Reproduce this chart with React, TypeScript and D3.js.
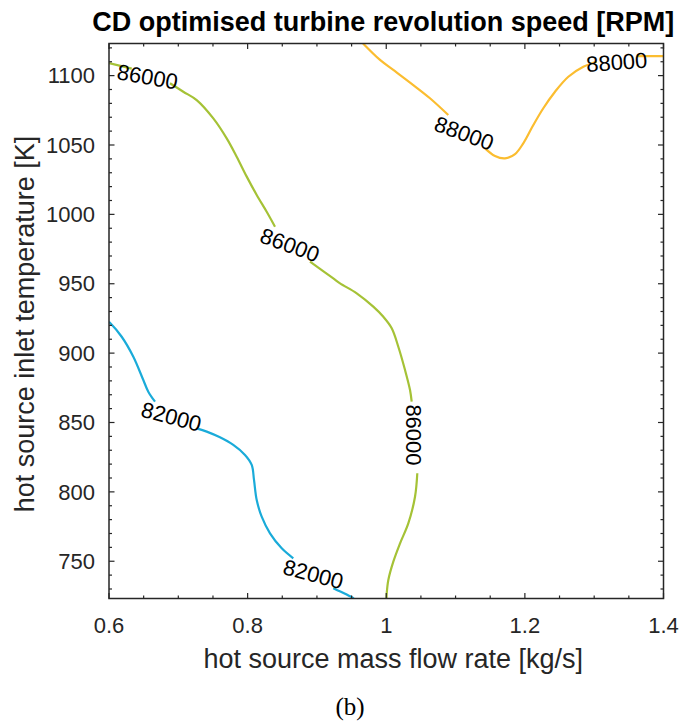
import React from "react";
import * as d3 from "d3";

// ---------- data ----------
const xDomain: [number, number] = [0.6, 1.4];
const yDomain: [number, number] = [723.15, 1123.15];

const xTickValues = [0.6, 0.8, 1.0, 1.2, 1.4];
const xTickLabels = ["0.6", "0.8", "1", "1.2", "1.4"];
const yTickValues = [750, 800, 850, 900, 950, 1000, 1050, 1100];
const yTickLabels = ["750", "800", "850", "900", "950", "1000", "1050", "1100"];

const levels = [82000, 86000, 88000];

// contour 82000 (pieces between labels)
const c82a: [number, number][] = [
  [0.6, 922.5], [0.6014, 921.9], [0.6183, 911.8], [0.6351, 897.4], [0.6495, 880.6],
  [0.6567, 872.2], [0.6664, 865.0],
];
const c82b: [number, number][] = [
  [0.7265, 845.8], [0.741, 843.4], [0.7601, 839.3], [0.7793, 833.8], [0.7962, 826.6],
  [0.8059, 819.4], [0.8092, 808.6], [0.8131, 794.1], [0.8203, 782.1], [0.8323, 770.1],
  [0.8492, 759.3], [0.8659, 752.1],
];
const c82c: [number, number][] = [
  [0.9236, 730.5], [0.9516, 723.7], [0.953, 723.15],
];

// contour 86000
const c86a: [number, number][] = [
  [0.6, 1109.0], [0.6328, 1105.0],
];
const c86b: [number, number][] = [
  [0.688, 1094.5], [0.7072, 1088.4], [0.7265, 1082.4], [0.7505, 1069.2], [0.7698, 1054.8],
  [0.7842, 1041.6], [0.7987, 1027.2], [0.8131, 1014.0], [0.8275, 1001.9], [0.8395, 991.1],
];
const c86c: [number, number][] = [
  [0.89, 965.9], [0.9236, 953.9], [0.9333, 950.3], [0.9574, 943.1], [0.9813, 933.5],
  [0.9958, 926.2], [1.0079, 917.9], [1.0174, 904.6], [1.0271, 887.8], [1.0343, 873.4],
  [1.0367, 865.0],
];
const c86d: [number, number][] = [
  [1.0448, 813.4], [1.0415, 796.5], [1.0318, 777.3], [1.0199, 762.9], [1.0102, 749.7],
  [1.003, 736.5], [1.0007, 726.9], [1.0004, 723.15],
];

// contour 88000
const c88a: [number, number][] = [
  [0.9665, 1123.15], [0.991, 1111.3], [1.0102, 1104.1], [1.039, 1093.2], [1.0631, 1083.7],
  [1.0895, 1071.6],
];
const c88b: [number, number][] = [
  [1.1425, 1047.6], [1.1569, 1042.1], [1.1713, 1040.4], [1.1858, 1043.5], [1.1977, 1051.2],
  [1.2122, 1064.4], [1.2266, 1076.5], [1.2435, 1088.4], [1.2627, 1099.2], [1.2843, 1106.4],
  [1.3037, 1110.0],
];
const c88c: [number, number][] = [
  [1.3614, 1114.1], [1.4, 1114.1],
];

const segmentLevels = [82000, 82000, 82000, 86000, 86000, 86000, 86000, 88000, 88000, 88000];
const segmentPoints = [c82a, c82b, c82c, c86a, c86b, c86c, c86d, c88a, c88b, c88c];

// contour labels
const labelLevels = [82000, 82000, 86000, 86000, 86000, 88000, 88000];
const labelX = [0.690, 0.8948, 0.6555, 0.8611, 1.04, 1.1125, 1.3325];
const labelY = [854.2, 740.7, 1099.2, 977.9, 841.0, 1058.4, 1109.7];
const labelAngle = [15, 15, 10, 20, 90, 20, -4];

// ---------- styles ----------
const W = 699;
const H = 727;
const plot = { left: 109, right: 663.5, top: 43.5, bottom: 598.5 };
const levelColor: Record<number, string> = {
  82000: "#1aabd9",
  86000: "#a5c236",
  88000: "#fbbd30",
};
const sans = "'Liberation Sans', Arial, Helvetica, sans-serif";
const axisColor = "#262626";

export default function App() {
  const x = d3.scaleLinear().domain(xDomain).range([plot.left, plot.right]);
  const y = d3.scaleLinear().domain(yDomain).range([plot.bottom, plot.top]);

  const line = d3
    .line<[number, number]>()
    .x((d) => x(d[0]))
    .y((d) => y(d[1]))
    .curve(d3.curveCatmullRom.alpha(0.5));

  const xMinor = d3.range(0, 17).map((i) => 0.6 + i * 0.05);
  const yMinor = d3.range(730, 1121, 10);
  const majorLen = 5.5;
  const minorLen = 3;

  const isMajorX = (v: number) => xTickValues.some((t) => Math.abs(t - v) < 1e-6);
  const isMajorY = (v: number) => yTickValues.includes(v);

  return (
    <svg
      width={W}
      height={H}
      style={{ position: "absolute", left: 0, top: 0, background: "#fff" }}
      xmlns="http://www.w3.org/2000/svg"
    >
      <rect x={0} y={0} width={W} height={H} fill="#fff" />
      <defs>
        <clipPath id="clip">
          <rect x={plot.left} y={plot.top} width={plot.right - plot.left} height={plot.bottom - plot.top} />
        </clipPath>
      </defs>

      {/* contour lines */}
      <g clipPath="url(#clip)">
        {segmentPoints.map((pts, i) => (
          <path
            key={i}
            d={line(pts) || ""}
            fill="none"
            stroke={levelColor[segmentLevels[i]]}
            strokeWidth={2.2}
            strokeLinejoin="round"
            strokeLinecap="butt"
          />
        ))}
      </g>

      {/* contour labels */}
      {labelLevels.map((lv, i) => (
        <text
          key={i}
          transform={`translate(${x(labelX[i])},${y(labelY[i])}) rotate(${labelAngle[i]})`}
          textAnchor="middle"
          dy="0.35em"
          fontFamily={sans}
          fontSize={22}
          fill="#000"
        >
          {String(lv)}
        </text>
      ))}

      {/* axes box */}
      <rect
        x={plot.left}
        y={plot.top}
        width={plot.right - plot.left}
        height={plot.bottom - plot.top}
        fill="none"
        stroke={axisColor}
        strokeWidth={1.5}
      />

      {/* x ticks (bottom and top, inward) */}
      {xMinor.map((v, i) => {
        const len = isMajorX(v) ? majorLen : minorLen;
        const px = x(v);
        return (
          <g key={"xt" + i} stroke={axisColor} strokeWidth={1.2}>
            <line x1={px} x2={px} y1={plot.bottom} y2={plot.bottom - len} />
            <line x1={px} x2={px} y1={plot.top} y2={plot.top + len} />
          </g>
        );
      })}
      {/* y ticks (left and right, inward) */}
      {yMinor.map((v, i) => {
        const len = isMajorY(v) ? majorLen : minorLen;
        const py = y(v);
        return (
          <g key={"yt" + i} stroke={axisColor} strokeWidth={1.2}>
            <line x1={plot.left} x2={plot.left + len} y1={py} y2={py} />
            <line x1={plot.right} x2={plot.right - len} y1={py} y2={py} />
          </g>
        );
      })}

      {/* tick labels */}
      {xTickValues.map((v, i) => (
        <text
          key={"xl" + i}
          x={x(v)}
          y={633}
          textAnchor="middle"
          fontFamily={sans}
          fontSize={22}
          fill="#262626"
        >
          {xTickLabels[i]}
        </text>
      ))}
      {yTickValues.map((v, i) => (
        <text
          key={"yl" + i}
          x={95}
          y={y(v)}
          dy="0.35em"
          textAnchor="end"
          fontFamily={sans}
          fontSize={22}
          fill="#262626"
        >
          {yTickLabels[i]}
        </text>
      ))}

      {/* axis labels */}
      <text
        x={(plot.left + plot.right) / 2 + 7}
        y={668}
        textAnchor="middle"
        fontFamily={sans}
        fontSize={27}
        fill="#262626"
      >
        hot source mass flow rate [kg/s]
      </text>
      <text
        transform={`translate(33.5,${(plot.top + plot.bottom) / 2 + 3}) rotate(-90)`}
        textAnchor="middle"
        fontFamily={sans}
        fontSize={27}
        fill="#262626"
      >
        hot source inlet temperature [K]
      </text>

      {/* title */}
      <text
        x={(plot.left + plot.right) / 2 - 3}
        y={31}
        textAnchor="middle"
        fontFamily={sans}
        fontSize={27}
        fontWeight="bold"
        fill="#000"
      >
        CD optimised turbine revolution speed [RPM]
      </text>

      {/* caption */}
      <text
        x={350}
        y={715}
        textAnchor="middle"
        fontFamily="'Liberation Serif', 'Times New Roman', serif"
        fontSize={25}
        fill="#000"
      >
        (b)
      </text>
    </svg>
  );
}
